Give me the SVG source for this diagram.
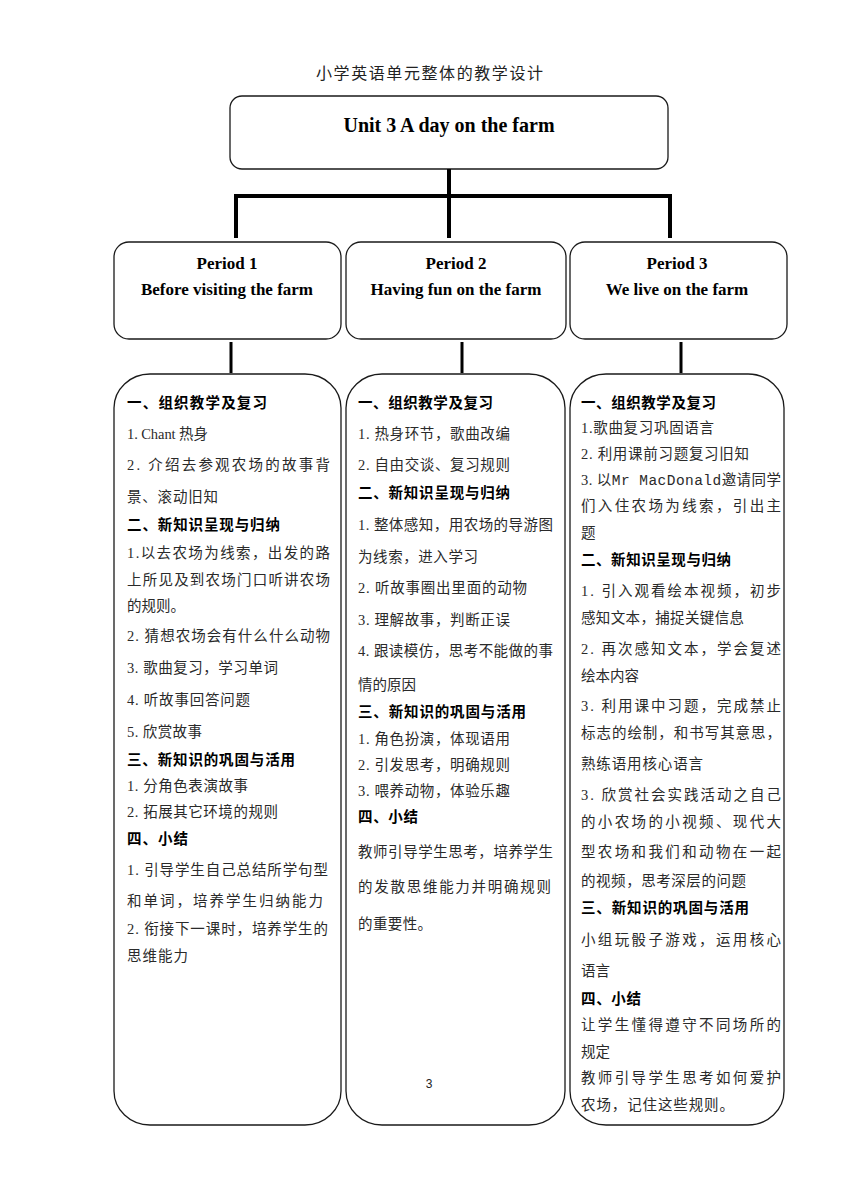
<svg xmlns="http://www.w3.org/2000/svg" width="860" height="1180" viewBox="0 0 860 1180">
<style>
.box{fill:#fff;stroke:#1a1a1a;stroke-width:1.3}
.conn{stroke:#000;stroke-width:4;fill:none}
.stub{stroke:#000;stroke-width:3;fill:none}
.title{font-family:"Noto Sans CJK SC",sans-serif;font-size:16px;fill:#222}
.unit{font-family:"Liberation Serif",serif;font-weight:bold;font-size:20px;fill:#000}
.per{font-family:"Liberation Serif",serif;font-weight:bold;font-size:17px;fill:#000}
.h{font-family:"Noto Sans CJK SC",sans-serif;font-weight:bold;font-size:14.5px;fill:#000}
.t{font-family:"Liberation Serif","Noto Sans CJK SC",serif;font-size:14.5px;fill:#2a2a2a}
.mono{font-family:"Liberation Mono",monospace}
.pg{font-family:"Liberation Sans",sans-serif;font-size:12px;fill:#222}
</style>
<text class="title" x="316" y="79" textLength="227">小学英语单元整体的教学设计</text>
<g id="unit">
<rect class="box" x="230" y="96" width="438" height="73" rx="12"/>
<text class="unit" x="449" y="132" text-anchor="middle">Unit 3 A day on the farm</text>
</g>
<g id="connectors">
<path class="conn" d="M449 169 V238 M236 238 V196 H670 V238"/>
<path class="stub" d="M231 342 V373 M462 342 V373 M681 342 V373"/>
</g>
<g id="period1">
<rect class="box" x="114" y="242" width="227" height="97" rx="15"/>
<text class="per" x="227" y="269" text-anchor="middle">Period 1</text>
<text class="per" x="227" y="295" text-anchor="middle">Before visiting the farm</text>
</g>
<g id="period2">
<rect class="box" x="346" y="242" width="220" height="97" rx="15"/>
<text class="per" x="456" y="269" text-anchor="middle">Period 2</text>
<text class="per" x="456" y="295" text-anchor="middle">Having fun on the farm</text>
</g>
<g id="period3">
<rect class="box" x="570" y="242" width="217" height="97" rx="15"/>
<text class="per" x="677" y="269" text-anchor="middle">Period 3</text>
<text class="per" x="677" y="295" text-anchor="middle">We live on the farm</text>
</g>
<g id="content1">
<rect class="box" x="114" y="374" width="227" height="751" rx="36" ry="34"/>
<text class="h" x="127" y="408" textLength="140">一、组织教学及复习</text>
<text class="t" x="127" y="439" textLength="81">1. Chant  热身</text>
<text class="t" x="127" y="470" textLength="203">2. 介绍去参观农场的故事背</text>
<text class="t" x="127" y="502" textLength="91">景、滚动旧知</text>
<text class="h" x="127" y="530" textLength="153">二、新知识呈现与归纳</text>
<text class="t" x="127" y="558" textLength="203">1.以去农场为线索，出发的路</text>
<text class="t" x="127" y="585" textLength="203">上所见及到农场门口听讲农场</text>
<text class="t" x="127" y="611" textLength="58">的规则。</text>
<text class="t" x="127" y="641" textLength="203">2. 猜想农场会有什么什么动物</text>
<text class="t" x="127" y="673" textLength="151">3. 歌曲复习，学习单词</text>
<text class="t" x="127" y="705" textLength="123">4. 听故事回答问题</text>
<text class="t" x="127" y="737" textLength="75">5. 欣赏故事</text>
<text class="h" x="127" y="765" textLength="168">三、新知识的巩固与活用</text>
<text class="t" x="127" y="791" textLength="121">1. 分角色表演故事</text>
<text class="t" x="127" y="817" textLength="151">2. 拓展其它环境的规则</text>
<text class="h" x="127" y="844" textLength="61">四、小结</text>
<text class="t" x="127" y="875" textLength="201">1. 引导学生自己总结所学句型</text>
<text class="t" x="127" y="906" textLength="196">和单词，培养学生归纳能力</text>
<text class="t" x="127" y="934" textLength="201">2. 衔接下一课时，培养学生的</text>
<text class="t" x="127" y="961" textLength="61">思维能力</text>
</g>
<g id="content2">
<rect class="box" x="346" y="374" width="219" height="751" rx="36" ry="34"/>
<text class="h" x="358" y="408" textLength="135">一、组织教学及复习</text>
<text class="t" x="358" y="439" textLength="152">1. 热身环节，歌曲改编</text>
<text class="t" x="358" y="470" textLength="152">2. 自由交谈、复习规则</text>
<text class="h" x="358" y="498" textLength="152">二、新知识呈现与归纳</text>
<text class="t" x="358" y="530" textLength="195">1. 整体感知，用农场的导游图</text>
<text class="t" x="358" y="562" textLength="120">为线索，进入学习</text>
<text class="t" x="358" y="593" textLength="169">2. 听故事圈出里面的动物</text>
<text class="t" x="358" y="625" textLength="152">3. 理解故事，判断正误</text>
<text class="t" x="358" y="656" textLength="195">4. 跟读模仿，思考不能做的事</text>
<text class="t" x="358" y="690" textLength="58">情的原因</text>
<text class="h" x="358" y="717" textLength="168">三、新知识的巩固与活用</text>
<text class="t" x="358" y="744" textLength="152">1. 角色扮演，体现语用</text>
<text class="t" x="358" y="770" textLength="152">2. 引发思考，明确规则</text>
<text class="t" x="358" y="796" textLength="152">3. 喂养动物，体验乐趣</text>
<text class="h" x="358" y="822" textLength="60">四、小结</text>
<text class="t" x="358" y="857" textLength="195">教师引导学生思考，培养学生</text>
<text class="t" x="358" y="892" textLength="193">的发散思维能力并明确规则</text>
<text class="t" x="358" y="929" textLength="74">的重要性。</text>
</g>
<g id="content3">
<rect class="box" x="570" y="374" width="214" height="751" rx="36" ry="34"/>
<text class="h" x="581" y="408" textLength="135">一、组织教学及复习</text>
<text class="t" x="581" y="433" textLength="133">1.歌曲复习巩固语言</text>
<text class="t" x="581" y="459" textLength="168">2. 利用课前习题复习旧知</text>
<text class="t" x="581" y="485" textLength="200">3. 以<tspan class="mono">Mr MacDonald</tspan>邀请同学</text>
<text class="t" x="581" y="511" textLength="200">们入住农场为线索，引出主</text>
<text class="t" x="581" y="538">题</text>
<text class="h" x="581" y="565" textLength="150">二、新知识呈现与归纳</text>
<text class="t" x="581" y="596" textLength="200">1. 引入观看绘本视频，初步</text>
<text class="t" x="581" y="623" textLength="163">感知文本，捕捉关键信息</text>
<text class="t" x="581" y="654" textLength="200">2. 再次感知文本，学会复述</text>
<text class="t" x="581" y="681" textLength="58">绘本内容</text>
<text class="t" x="581" y="711" textLength="200">3. 利用课中习题，完成禁止</text>
<text class="t" x="581" y="738" textLength="200">标志的绘制，和书写其意思，</text>
<text class="t" x="581" y="769" textLength="122">熟练语用核心语言</text>
<text class="t" x="581" y="800" textLength="200">3. 欣赏社会实践活动之自己</text>
<text class="t" x="581" y="827" textLength="200">的小农场的小视频、现代大</text>
<text class="t" x="581" y="857" textLength="200">型农场和我们和动物在一起</text>
<text class="t" x="581" y="886" textLength="165">的视频，思考深层的问题</text>
<text class="h" x="581" y="913" textLength="168">三、新知识的巩固与活用</text>
<text class="t" x="581" y="945" textLength="200">小组玩骰子游戏，运用核心</text>
<text class="t" x="581" y="976">语言</text>
<text class="h" x="581" y="1004" textLength="60">四、小结</text>
<text class="t" x="581" y="1030" textLength="200">让学生懂得遵守不同场所的</text>
<text class="t" x="581" y="1057">规定</text>
<text class="t" x="581" y="1083" textLength="200">教师引导学生思考如何爱护</text>
<text class="t" x="581" y="1110" textLength="153">农场，记住这些规则。</text>
</g>
<text class="pg" x="429" y="1088" text-anchor="middle">3</text>
</svg>
